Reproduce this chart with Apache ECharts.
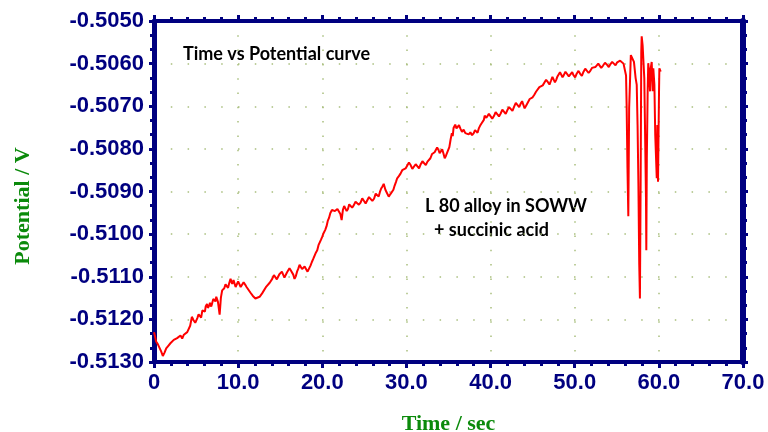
<!DOCTYPE html>
<html><head><meta charset="utf-8">
<script src="https://cdn.jsdelivr.net/npm/echarts@6/dist/echarts.min.js"></script>
<style>html,body{margin:0;padding:0;background:#fff}#c{width:768px;height:432px}</style>
</head><body><div id="c"></div>
<script>
// Readings: [time (s), potential (V)]
const samples = [
[0.00,-0.51230],[0.10,-0.51238],[0.25,-0.51252],[0.45,-0.51258],[0.65,-0.51262],[0.85,-0.51275],[1.05,-0.51286],[1.25,-0.51278],[1.45,-0.51268],[1.70,-0.51262],
[1.95,-0.51256],[2.15,-0.51260],[2.35,-0.51248],[2.55,-0.51252],[2.75,-0.51244],[2.95,-0.51248],[3.15,-0.51238],[3.35,-0.51245],[3.55,-0.51236],[3.75,-0.51240],
[3.95,-0.51230],[4.10,-0.51233],[4.30,-0.51215],[4.50,-0.51194],[4.70,-0.51202],[4.90,-0.51208],[5.15,-0.51197],[5.30,-0.51188],[5.50,-0.51189],[5.60,-0.51196],
[5.75,-0.51179],[5.95,-0.51175],[6.05,-0.51182],[6.15,-0.51169],[6.30,-0.51164],[6.40,-0.51173],[6.55,-0.51168],[6.65,-0.51161],[6.80,-0.51170],[6.90,-0.51163],
[7.05,-0.51152],[7.15,-0.51154],[7.30,-0.51158],[7.40,-0.51147],[7.60,-0.51159],[7.80,-0.51189],[7.95,-0.51149],[8.10,-0.51132],[8.35,-0.51127],[8.50,-0.51118],
[8.65,-0.51121],[8.80,-0.51126],[8.95,-0.51114],[9.10,-0.51105],[9.20,-0.51112],[9.30,-0.51117],[9.45,-0.51108],[9.55,-0.51112],[9.70,-0.51124],[9.85,-0.51120],
[10.00,-0.51111],[10.15,-0.51115],[10.30,-0.51124],[10.45,-0.51121],[10.65,-0.51113],[10.85,-0.51119],[11.00,-0.51124],[11.15,-0.51127],[11.45,-0.51137],[11.75,-0.51145],
[12.05,-0.51151],[12.25,-0.51155],[12.55,-0.51147],[12.85,-0.51139],[13.05,-0.51135],[13.35,-0.51123],[13.75,-0.51114],[14.05,-0.51105],[14.25,-0.51096],[14.45,-0.51099],
[14.60,-0.51106],[14.75,-0.51103],[14.90,-0.51094],[15.05,-0.51097],[15.20,-0.51088],[15.35,-0.51092],[15.50,-0.51102],[15.65,-0.51099],[15.80,-0.51090],[15.95,-0.51091],
[16.10,-0.51080],[16.25,-0.51085],[16.40,-0.51089],[16.55,-0.51095],[16.70,-0.51105],[16.85,-0.51099],[17.00,-0.51088],[17.15,-0.51081],[17.30,-0.51072],[17.45,-0.51077],
[17.60,-0.51082],[17.75,-0.51085],[17.90,-0.51076],[18.05,-0.51079],[18.25,-0.51088],[18.45,-0.51085],[18.60,-0.51074],[18.75,-0.51066],[18.95,-0.51057],[19.25,-0.51043],
[19.40,-0.51038],[19.55,-0.51026],[19.70,-0.51022],[19.85,-0.51013],[20.00,-0.51006],[20.15,-0.50998],[20.35,-0.50990],[20.50,-0.50982],[20.65,-0.50969],[20.80,-0.50962],
[20.95,-0.50951],[21.15,-0.50943],[21.35,-0.50939],[21.50,-0.50946],[21.65,-0.50949],[21.80,-0.50941],[21.95,-0.50945],[22.15,-0.50953],[22.30,-0.50967],[22.45,-0.50943],
[22.60,-0.50934],[22.75,-0.50936],[22.90,-0.50946],[23.05,-0.50941],[23.20,-0.50930],[23.35,-0.50931],[23.55,-0.50938],[23.75,-0.50932],[23.95,-0.50924],[24.15,-0.50923],
[24.35,-0.50931],[24.55,-0.50926],[24.75,-0.50916],[24.95,-0.50919],[25.15,-0.50928],[25.35,-0.50925],[25.55,-0.50913],[25.75,-0.50915],[25.95,-0.50922],[26.15,-0.50917],
[26.35,-0.50905],[26.55,-0.50907],[26.70,-0.50912],[26.85,-0.50901],[27.00,-0.50893],[27.15,-0.50888],[27.30,-0.50882],[27.50,-0.50896],[27.70,-0.50904],[27.90,-0.50912],
[28.10,-0.50906],[28.30,-0.50908],[28.45,-0.50896],[28.60,-0.50886],[28.75,-0.50878],[28.90,-0.50869],[29.10,-0.50864],[29.30,-0.50858],[29.50,-0.50850],[29.70,-0.50853],
[29.90,-0.50846],[30.10,-0.50844],[30.30,-0.50832],[30.50,-0.50838],[30.70,-0.50847],[30.90,-0.50844],[31.10,-0.50836],[31.30,-0.50840],[31.50,-0.50846],[31.70,-0.50836],
[31.90,-0.50829],[32.10,-0.50832],[32.30,-0.50838],[32.50,-0.50830],[32.70,-0.50826],[32.85,-0.50822],[33.05,-0.50812],[33.20,-0.50816],[33.35,-0.50808],[33.50,-0.50808],
[33.65,-0.50797],[33.80,-0.50802],[33.95,-0.50810],[34.10,-0.50808],[34.25,-0.50801],[34.40,-0.50811],[34.55,-0.50822],[34.70,-0.50816],[34.90,-0.50819],[35.10,-0.50796],
[35.25,-0.50778],[35.40,-0.50763],[35.50,-0.50770],[35.60,-0.50751],[35.80,-0.50743],[35.95,-0.50752],[36.10,-0.50749],[36.25,-0.50744],[36.40,-0.50752],[36.60,-0.50760],
[36.80,-0.50755],[37.00,-0.50763],[37.20,-0.50759],[37.40,-0.50766],[37.60,-0.50761],[37.80,-0.50768],[38.00,-0.50763],[38.15,-0.50756],[38.30,-0.50757],[38.45,-0.50762],
[38.60,-0.50752],[38.75,-0.50746],[38.90,-0.50741],[39.05,-0.50738],[39.20,-0.50732],[39.30,-0.50722],[39.40,-0.50719],[39.50,-0.50727],[39.60,-0.50725],[39.80,-0.50718],
[40.00,-0.50721],[40.20,-0.50729],[40.40,-0.50723],[40.60,-0.50714],[40.80,-0.50717],[41.00,-0.50724],[41.20,-0.50717],[41.40,-0.50708],[41.60,-0.50711],[41.80,-0.50718],
[42.00,-0.50709],[42.20,-0.50702],[42.40,-0.50705],[42.60,-0.50711],[42.80,-0.50701],[43.00,-0.50692],[43.20,-0.50695],[43.40,-0.50702],[43.60,-0.50693],[43.75,-0.50688],
[43.90,-0.50697],[44.05,-0.50705],[44.20,-0.50701],[44.35,-0.50694],[44.50,-0.50693],[44.65,-0.50683],[44.80,-0.50685],[45.00,-0.50679],[45.20,-0.50673],[45.40,-0.50666],
[45.60,-0.50662],[45.80,-0.50655],[46.00,-0.50653],[46.20,-0.50651],[46.40,-0.50647],[46.60,-0.50638],[46.80,-0.50643],[47.00,-0.50649],[47.20,-0.50639],[47.35,-0.50631],
[47.50,-0.50635],[47.65,-0.50644],[47.80,-0.50638],[47.95,-0.50630],[48.10,-0.50629],[48.25,-0.50620],[48.40,-0.50624],[48.55,-0.50632],[48.70,-0.50627],[48.90,-0.50619],
[49.10,-0.50623],[49.30,-0.50630],[49.50,-0.50627],[49.70,-0.50620],[49.85,-0.50627],[50.05,-0.50632],[50.25,-0.50623],[50.45,-0.50617],[50.65,-0.50624],[50.85,-0.50629],
[51.05,-0.50619],[51.25,-0.50612],[51.45,-0.50616],[51.65,-0.50622],[51.85,-0.50617],[52.05,-0.50610],[52.25,-0.50614],[52.45,-0.50608],[52.65,-0.50607],[52.80,-0.50600],
[52.95,-0.50604],[53.15,-0.50610],[53.35,-0.50605],[53.60,-0.50598],[53.85,-0.50603],[54.05,-0.50608],[54.25,-0.50601],[54.45,-0.50596],[54.65,-0.50600],[54.85,-0.50604],
[55.05,-0.50597],[55.25,-0.50595],[55.40,-0.50593],[55.60,-0.50596],[55.80,-0.50600],[56.10,-0.50628],[56.17,-0.50697],[56.27,-0.50845],[56.37,-0.50958],[56.47,-0.50704],
[56.67,-0.50580],[56.84,-0.50576],[57.04,-0.50596],[57.24,-0.50634],[57.37,-0.50650],[57.47,-0.50744],[57.57,-0.50884],[57.67,-0.51072],[57.75,-0.51151],[57.84,-0.50860],
[57.91,-0.50572],[57.96,-0.50536],[58.07,-0.50557],[58.15,-0.50588],[58.27,-0.50634],[58.35,-0.50744],[58.47,-0.50915],[58.51,-0.51038],[58.57,-0.50822],[58.67,-0.50665],
[58.74,-0.50599],[58.86,-0.50627],[58.95,-0.50665],[59.03,-0.50611],[59.15,-0.50596],[59.27,-0.50665],[59.34,-0.50611],[59.47,-0.50650],[59.57,-0.50767],[59.75,-0.50869],
[59.82,-0.50744],[59.90,-0.50877],[59.97,-0.50873],[60.02,-0.50665],[60.06,-0.50611],[60.22,-0.50619]
];
const xTicks = {min: 0, max: 70, step: 10};
const yTicks = {min: -0.5130, max: -0.5050, step: 0.001};
const titleText = 'Time vs Potential curve';
const noteLines = ['L 80 alloy in SOWW', '+ succinic acid'];
const xName = 'Time / sec';
const yName = 'Potential / V';

const navy = '#000080';
const green = '#0b8a0b';
const gridDot = '#a9bf7e';
const lblFont = {color: navy, fontFamily: 'Liberation Sans, Arial', fontWeight: 'bold', fontSize: 22};

function xAxisCfg(pos, show) {
  return {
    type: 'value', position: pos, min: xTicks.min, max: xTicks.max, interval: xTicks.step,
    axisLine: {show: true, onZero: false, lineStyle: {color: navy, width: 4}},
    axisTick: {show: true, inside: false, length: 6, lineStyle: {color: navy, width: 3}},
    minorTick: {show: true, splitNumber: 5, length: 4, lineStyle: {color: navy, width: 3}},
    splitLine: {show: show, lineStyle: {color: gridDot, width: 1.5, type: [1.5, 12.8]}},
    minorSplitLine: {show: false},
    axisLabel: show ? Object.assign({show: true, margin: 10, formatter: v => v === 0 ? '0' : v.toFixed(1)}, lblFont) : {show: false},
    name: show ? xName : '', nameLocation: 'middle', nameGap: 51,
    nameTextStyle: {color: green, fontFamily: 'Liberation Serif, Times New Roman', fontWeight: 'bold', fontSize: 22}
  };
}
function yAxisCfg(pos, show, w) {
  return {
    type: 'value', position: pos, min: yTicks.min, max: yTicks.max, interval: yTicks.step,
    axisLine: {show: true, onZero: false, lineStyle: {color: navy, width: w}},
    axisTick: {show: true, inside: false, length: 5, lineStyle: {color: navy, width: 3}},
    minorTick: {show: true, splitNumber: 3, length: 4, lineStyle: {color: navy, width: 3}},
    splitLine: {show: show, lineStyle: {color: gridDot, width: 1.5, type: [1.5, 15.3]}},
    minorSplitLine: {show: false},
    axisLabel: show ? Object.assign({show: true, margin: 10, formatter: v => v.toFixed(4)}, lblFont) : {show: false}
  };
}

const chart = echarts.init(document.getElementById('c'), null, {renderer: 'canvas'});
chart.setOption({
  backgroundColor: '#fff',
  animation: false,
  grid: {left: 154, right: 25, top: 21, bottom: 70, containLabel: false, outerBoundsMode: 'none'},
  xAxis: [xAxisCfg('bottom', true), xAxisCfg('top', false)],
  yAxis: [yAxisCfg('left', true, 5), yAxisCfg('right', false, 6)],
  series: [{
    type: 'line', xAxisIndex: 0, yAxisIndex: 0, showSymbol: false, symbol: 'none',
    lineStyle: {color: '#ff0000', width: 2}, itemStyle: {color: '#ff0000'},
    data: samples
  }],
  graphic: [
    {type: 'text', left: 183, top: 45, style: {text: titleText, fill: '#000', font: 'bold 18px Lato, "Open Sans", sans-serif'}},
    {type: 'text', left: 425, top: 197, style: {text: noteLines[0], fill: '#000', font: 'bold 18px Lato, "Open Sans", sans-serif'}},
    {type: 'text', left: 434, top: 221, style: {text: noteLines[1], fill: '#000', font: 'bold 18px Lato, "Open Sans", sans-serif'}},
    {type: 'text', x: 23, y: 206, rotation: Math.PI / 2,
     style: {text: yName, fill: green, font: 'bold 22px "Liberation Serif", "Times New Roman", serif', align: 'center', verticalAlign: 'middle'}}
  ]
});
</script></body></html>
